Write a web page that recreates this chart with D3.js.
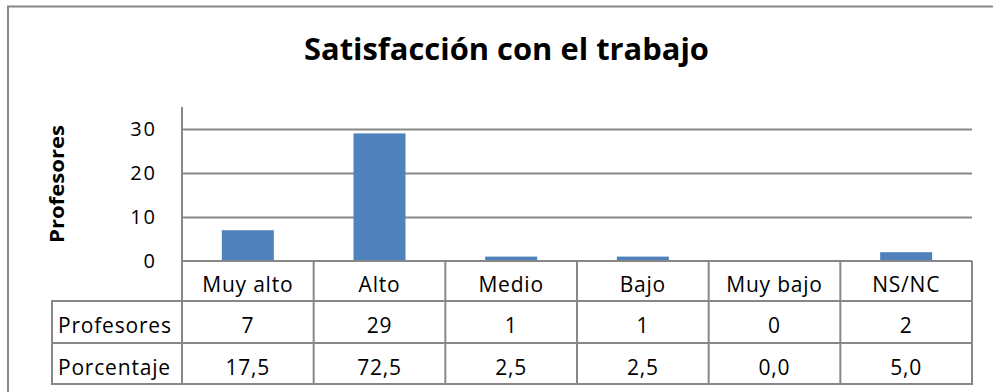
<!DOCTYPE html>
<html>
<head>
<meta charset="utf-8">
<script src="https://cdn.jsdelivr.net/npm/d3@7/dist/d3.min.js"></script>
<style>
  html, body { margin: 0; padding: 0; background: #fff; }
  svg { display: block; font-family: "Open Sans", "DejaVu Sans", sans-serif; }
</style>
</head>
<body>
<svg id="chart" width="993" height="392"></svg>
<script>
// Chart data
const categories = ["Muy alto", "Alto", "Medio", "Bajo", "Muy bajo", "NS/NC"];
const profesores = [7, 29, 1, 1, 0, 2];
const porcentaje = ["17,5", "72,5", "2,5", "2,5", "0,0", "5,0"];
const yTicks = [0, 10, 20, 30];
const rowLabels = ["Profesores", "Porcentaje"];
const chartTitle = "Satisfacción con el trabajo";
const axisTitle = "Profesores";

const W = 993, H = 392;
const lineColor = "#878787";
const barColor = "#4F81BD";

const svg = d3.select("#chart");

// Outer chart frame (runs past the right and bottom edges)
svg.append("rect")
  .attr("x", 8).attr("y", 6.5)
  .attr("width", W + 20).attr("height", H + 20)
  .attr("fill", "#fff")
  .attr("stroke", lineColor).attr("stroke-width", 2);

// Title
svg.append("text")
  .attr("x", 506.5).attr("y", 59.5)
  .attr("text-anchor", "middle")
  .attr("font-weight", "bold")
  .attr("font-size", 29.5)
  .attr("textLength", 405)
  .attr("lengthAdjust", "spacingAndGlyphs")
  .text(chartTitle);

// Scales
const plotLeft = 182, plotRight = 972;
const x = d3.scaleBand().domain(categories).range([plotLeft, plotRight]).padding(0);
const y = d3.scaleLinear().domain([0, 35]).range([261, 107]);

// Gridlines
const grid = svg.append("g")
  .attr("transform", `translate(${plotLeft},0)`)
  .call(d3.axisLeft(y).tickValues(yTicks.filter(t => t > 0)).tickSize(-(plotRight - plotLeft)).tickFormat(""));
grid.select(".domain").remove();
grid.selectAll(".tick line").attr("stroke", lineColor).attr("stroke-width", 2);

// Bars
const barW = x.bandwidth() * 0.395;
svg.append("g").selectAll("rect")
  .data(categories.map((c, i) => ({ c, v: profesores[i] })))
  .join("rect")
  .attr("x", d => x(d.c) + (x.bandwidth() - barW) / 2)
  .attr("y", d => y(d.v))
  .attr("width", barW)
  .attr("height", d => y(0) - y(d.v))
  .attr("fill", barColor);

// Y axis tick labels
const yAxis = svg.append("g")
  .attr("transform", `translate(${plotLeft},0)`)
  .call(d3.axisLeft(y).tickValues(yTicks).tickSize(0).tickPadding(25));
yAxis.select(".domain").remove();
yAxis.selectAll("text")
  .attr("font-family", "Open Sans, sans-serif")
  .attr("font-size", 20)
  .attr("letter-spacing", 2)
  .attr("fill", "#000");

// Y axis title
svg.append("text")
  .attr("transform", "translate(63.5,184) rotate(-90)")
  .attr("text-anchor", "middle")
  .attr("font-weight", "bold")
  .attr("font-size", 19)
  .attr("textLength", 118)
  .attr("lengthAdjust", "spacingAndGlyphs")
  .text(axisTitle);

// Data table
const rowTop = [261, 301, 343];
const rowBottom = 384;
const tableLeft = 52;
const g = svg.append("g").attr("stroke", lineColor).attr("stroke-width", 2);

// horizontal rules
g.append("line").attr("x1", plotLeft).attr("x2", plotRight).attr("y1", rowTop[0]).attr("y2", rowTop[0]);
[rowTop[1], rowTop[2], rowBottom].forEach(yy =>
  g.append("line").attr("x1", tableLeft - 1).attr("x2", plotRight + 1).attr("y1", yy).attr("y2", yy));

// vertical rules
g.append("line").attr("x1", tableLeft).attr("x2", tableLeft).attr("y1", rowTop[1]).attr("y2", rowBottom);
g.append("line").attr("x1", plotLeft).attr("x2", plotLeft).attr("y1", y(35)).attr("y2", rowBottom);
categories.forEach(c => {
  const xx = x(c) + x.bandwidth();
  g.append("line").attr("x1", xx).attr("x2", xx).attr("y1", rowTop[0]).attr("y2", rowBottom);
});

const textSize = 21;
const spacing = 0.8;
const cx = c => x(c) + x.bandwidth() / 2;

// category header row
svg.append("g").selectAll("text").data(categories).join("text")
  .attr("x", cx).attr("y", 292)
  .attr("text-anchor", "middle").attr("font-size", textSize).attr("letter-spacing", spacing)
  .text(d => d);

// Profesores row
svg.append("g").selectAll("text").data(profesores).join("text")
  .attr("x", (d, i) => cx(categories[i])).attr("y", 333)
  .attr("text-anchor", "middle").attr("font-size", textSize).attr("letter-spacing", spacing)
  .text(d => d);

// Porcentaje row
svg.append("g").selectAll("text").data(porcentaje).join("text")
  .attr("x", (d, i) => cx(categories[i])).attr("y", 374.5)
  .attr("text-anchor", "middle").attr("font-size", textSize).attr("letter-spacing", spacing)
  .text(d => d);

// row labels
svg.append("g").selectAll("text").data(rowLabels).join("text")
  .attr("x", 58).attr("y", (d, i) => i === 0 ? 333 : 374.5)
  .attr("font-size", textSize).attr("letter-spacing", spacing)
  .text(d => d);
</script>
</body>
</html>
